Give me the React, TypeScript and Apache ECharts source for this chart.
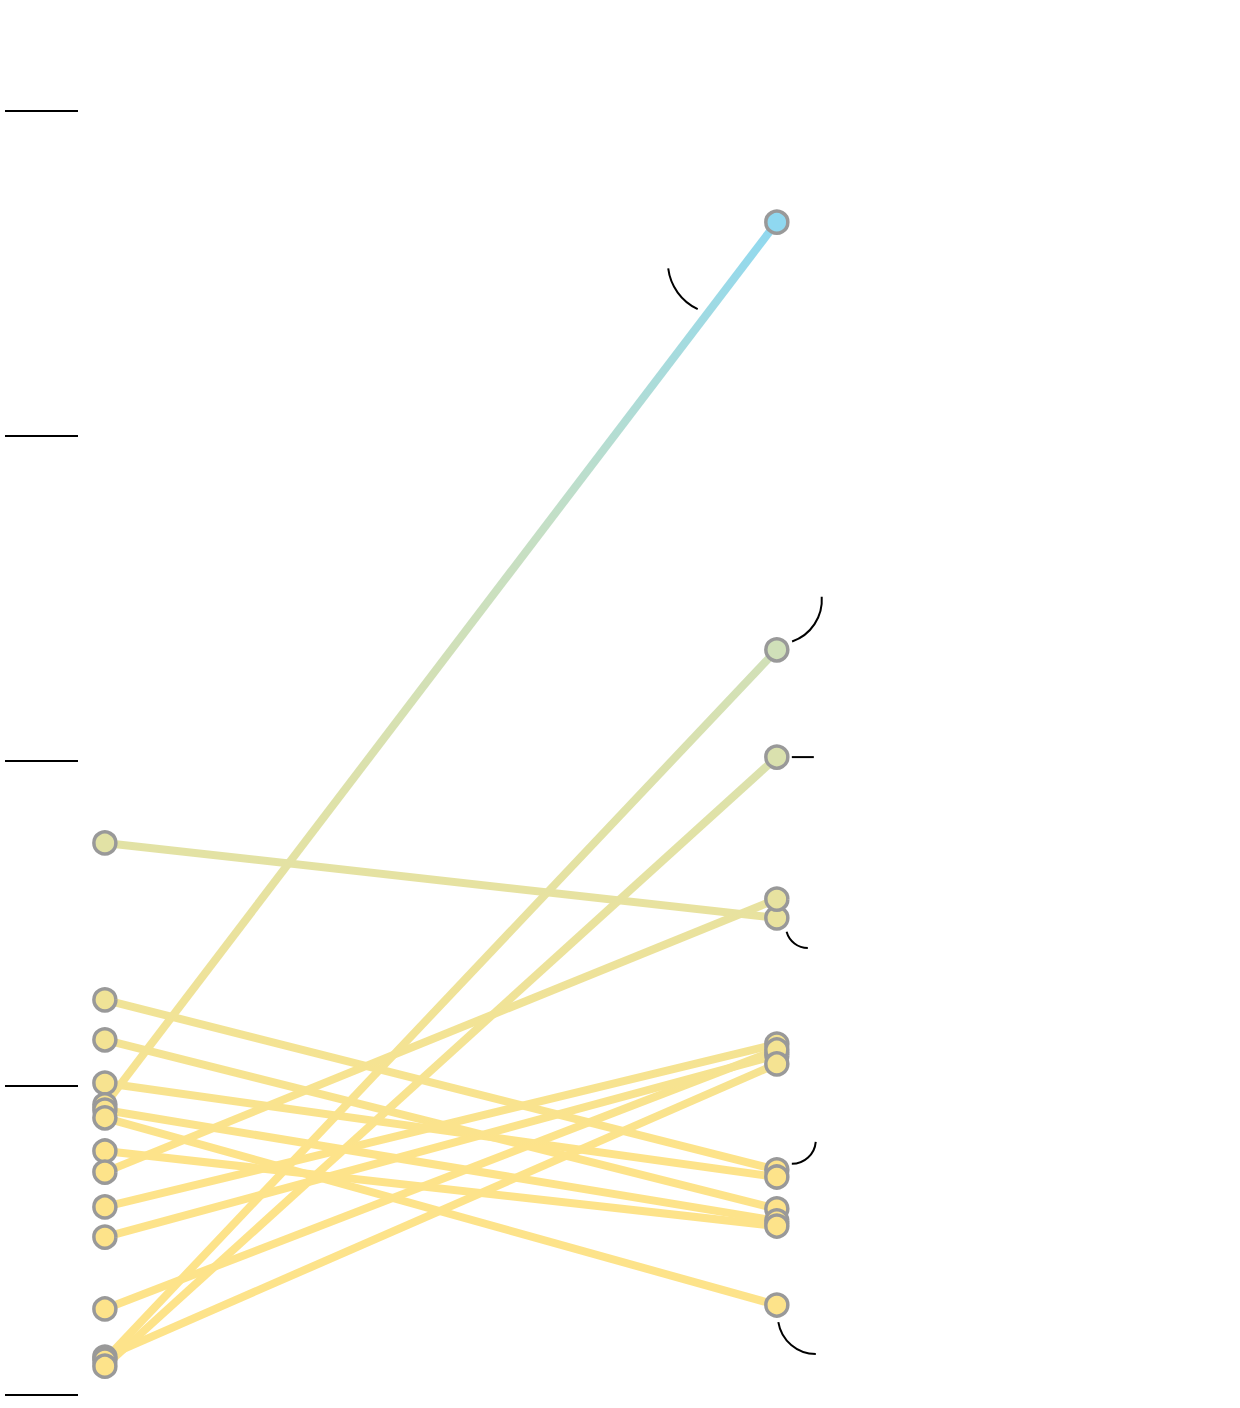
import React, { useRef, useEffect } from 'react';
import * as echarts from 'echarts';

// value at the left ("before") and right ("after") end of every line, paired by index
const LEFT_VALUES = [17.48, 12.65, 11.42, 10.09, 9.42, 9.26, 9.02, 8.0, 7.35, 6.28, 5.35, 3.14, 1.66, 1.57, 1.38];
const RIGHT_VALUES = [15.17, 7.42, 6.22, 7.2, 36.58, 5.85, 3.26, 5.69, 15.75, 11.29, 10.95, 11.11, 10.68, 23.42, 20.12];

const TICK_VALUES = [0.5, 10, 20, 30, 40];

const COLOR_STOPS = ['#fde38a', '#e2e2a5', '#c5dfc5', '#8fd8f0'];

// callout leaders next to some right-hand points (index into the arrays above)
type Callout =
  | { index: number; kind: 'arc'; dx: number; dy: number; r: number; a0: number; a1: number }
  | { index: number; kind: 'line'; x0: number; x1: number };

const CALLOUTS: Callout[] = [
  { index: 4, kind: 'arc', dx: -57, dy: 40, r: 52, a0: 2.01, a1: 3.02 },
  { index: 13, kind: 'arc', dx: 1, dy: -50, r: 44, a0: -0.07, a1: 1.24 },
  { index: 14, kind: 'line', x0: 15, x1: 37 },
  { index: 0, kind: 'arc', dx: 31, dy: 8, r: 22, a0: 1.571, a1: 2.875 },
  { index: 1, kind: 'arc', dx: 15, dy: -30, r: 24, a0: 0.083, a1: 1.571 },
  { index: 6, kind: 'arc', dx: 39, dy: 11, r: 38, a0: 1.571, a1: 2.98 },
];

export default function App() {
  const ref = useRef<HTMLDivElement>(null);

  useEffect(() => {
    if (!ref.current) return;
    const chart = echarts.init(ref.current, undefined, { renderer: 'svg' });

    const lineSeries = LEFT_VALUES.map((l, i) => ({
      type: 'line' as const,
      data: [[0, l], [1, RIGHT_VALUES[i]]],
      symbol: 'none',
      lineStyle: { width: 8 },
      emphasis: { disabled: true },
      z: 2,
      silent: true,
    }));

    const points = [
      ...LEFT_VALUES.map(v => [0, v]),
      ...RIGHT_VALUES.map(v => [1, v]),
    ];

    chart.setOption({
      animation: false,
      grid: { left: 78, top: 13.5, width: 1102, bottom: 13.25 },
      xAxis: { type: 'value', min: -0.04, max: 1.6, show: false },
      yAxis: {
        type: 'value',
        min: 0.5,
        max: 43,
        axisLine: { show: false, onZero: false },
        axisLabel: { show: false },
        splitLine: { show: false },
        axisTick: {
          show: true,
          inside: false,
          length: 73,
          customValues: TICK_VALUES,
          lineStyle: { color: '#000', width: 2 },
        },
      },
      visualMap: {
        type: 'continuous',
        show: false,
        dimension: 1,
        min: 8,
        max: 36.6,
        inRange: { color: COLOR_STOPS },
      },
      series: [
        ...lineSeries,
        {
          type: 'scatter',
          data: points,
          symbolSize: 22,
          itemStyle: { borderColor: '#999', borderWidth: 3.5, opacity: 1 },
          z: 5,
          silent: true,
        },
      ],
    });

    const graphics = CALLOUTS.map(c => {
      const [px, py] = chart.convertToPixel({ gridIndex: 0 }, [1, RIGHT_VALUES[c.index]]) as number[];
      if (c.kind === 'line') {
        return {
          type: 'line',
          shape: { x1: px + c.x0, y1: py, x2: px + c.x1, y2: py },
          style: { stroke: '#000', lineWidth: 2 },
          z: 10,
        };
      }
      return {
        type: 'arc',
        shape: { cx: px + c.dx, cy: py + c.dy, r: c.r, startAngle: c.a0, endAngle: c.a1, clockwise: true },
        style: { stroke: '#000', lineWidth: 2, fill: 'none' },
        z: 10,
      };
    });
    chart.setOption({ graphic: graphics });

    return () => chart.dispose();
  }, []);

  return (
    <div
      ref={ref}
      style={{ position: 'absolute', left: 0, top: 0, width: 1240, height: 1408, background: '#fff' }}
    />
  );
}
